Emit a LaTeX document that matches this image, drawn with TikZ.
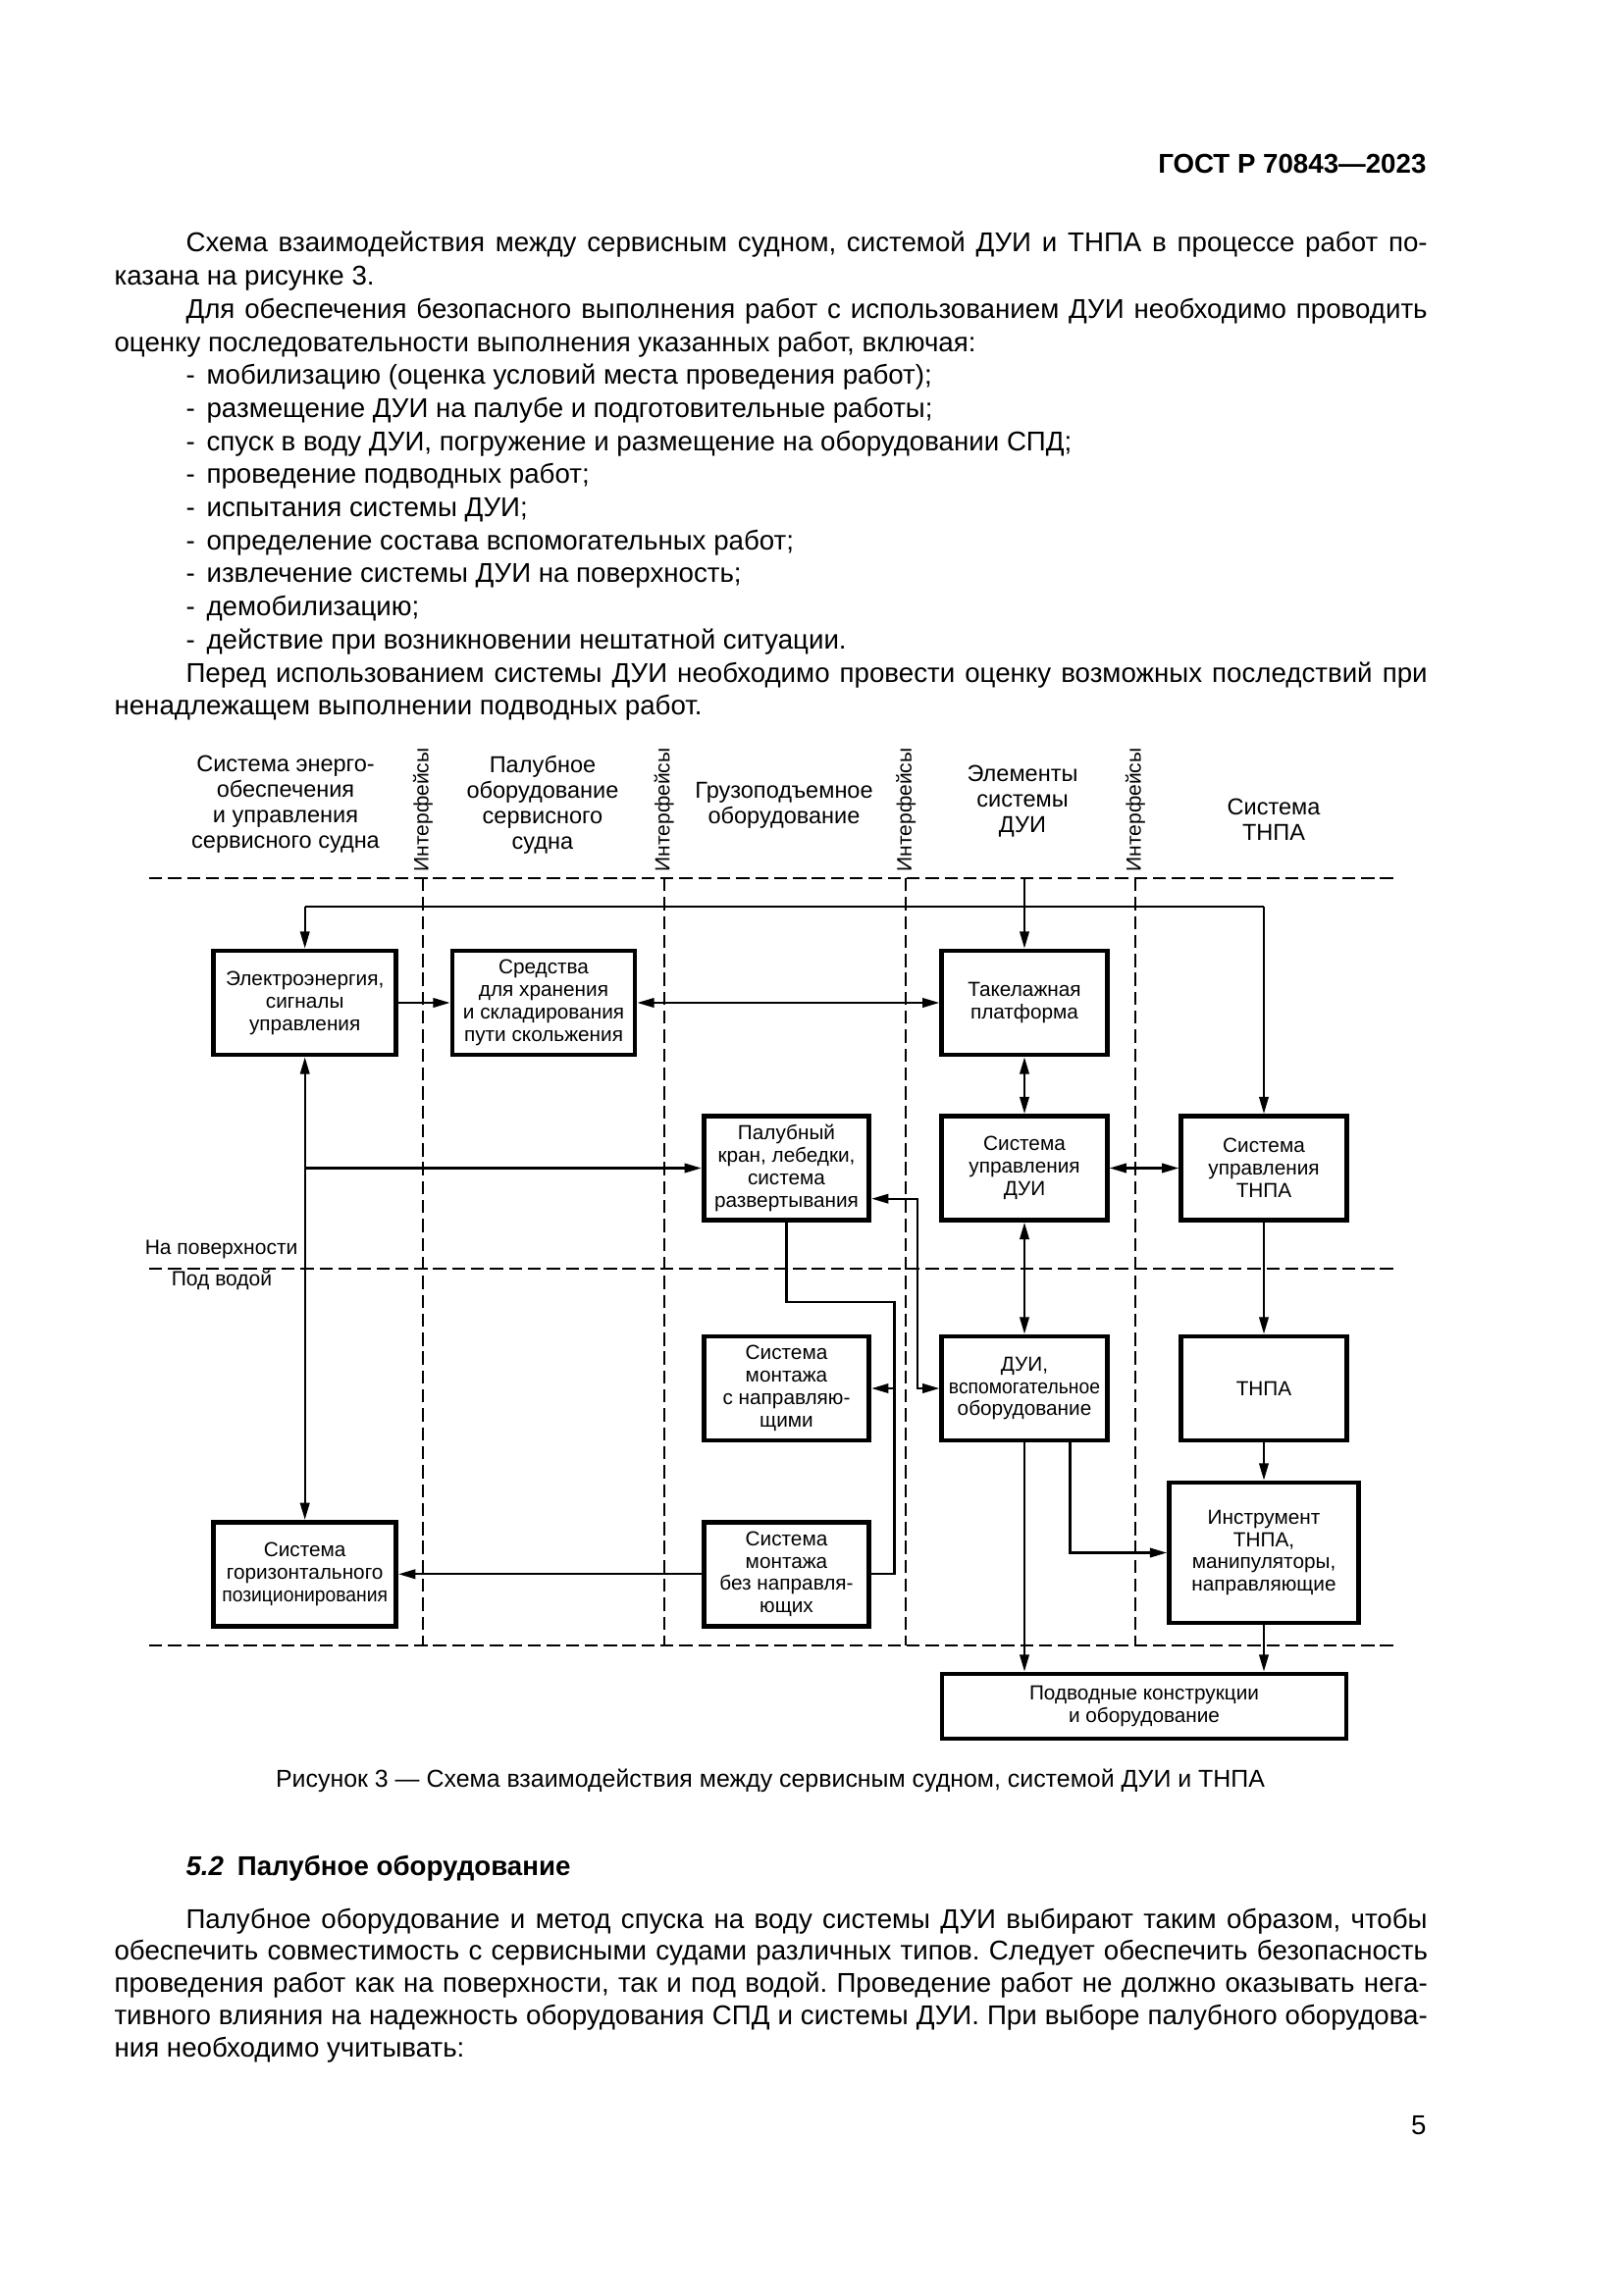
\documentclass[tikz,border=0pt]{standalone}
\usepackage{fontspec}
\setmainfont{Liberation Sans}
\newfontfamily\boxsans[FakeStretch=0.93]{Liberation Sans}
\usetikzlibrary{arrows.meta}
\frenchspacing

\begin{document}
\begin{tikzpicture}[x=0.12696mm, y=-0.12696mm,
		txt/.style={inner sep=0pt, anchor=base west, font=\fontsize{10}{11.6}\selectfont},
		hdr/.style={inner sep=0pt, align=center, font=\fontsize{8.5}{9.4}\selectfont},
		lbl/.style={inner sep=0pt, font=\fontsize{7.6}{8.4}\selectfont},
		blok/.style={draw, line width=0.6mm, align=center, inner sep=0pt,
			minimum height=13.46mm, font=\fontsize{7.5}{8.3}\selectfont},
		wide/.style={minimum width=23.6mm},
		narrow/.style={minimum width=21.4mm},
		sep/.style={line width=0.25mm, dash pattern=on 1.7mm off 0.75mm},
		con/.style={line width=0.3mm},
		arr/.style={con, -{Triangle[length=2.2mm, width=1.2mm]}},
		darr/.style={con, {Triangle[length=2.2mm, width=1.2mm]}-{Triangle[length=2.2mm, width=1.2mm]}}
		]
		
		\fill[white] (0,0) rectangle (1654,2339);
		\useasboundingbox (0,0) rectangle (1654,2339);
		
		% ---- ТЕКСТ СТРАНИЦЫ ----
		\node[txt, anchor=base east, font=\bfseries\fontsize{10}{11.6}\selectfont] (gost) at (1454,177) {ГОСТ Р 70843—2023};
		
		\node[txt] (t1) at (189,257) {\makebox[160.6mm][s]{Схема взаимодействия между сервисным судном, системой ДУИ и ТНПА в процессе работ по-}};
		\node[txt] (t2) at (116,290.7) {казана на рисунке 3.};
		\node[txt] (t3) at (189,324.4) {\makebox[160.6mm][s]{Для обеспечения безопасного выполнения работ с использованием ДУИ необходимо проводить}};
		\node[txt] (t4) at (116,358.1) {оценку последовательности выполнения указанных работ, включая:};
		\foreach \s [count=\i from 5] in {
			{мобилизацию (оценка условий места проведения работ);},
			{размещение ДУИ на палубе и подготовительные работы;},
			{спуск в воду ДУИ, погружение и размещение на оборудовании СПД;},
			{проведение подводных работ;},
			{испытания системы ДУИ;},
			{определение состава вспомогательных работ;},
			{извлечение системы ДУИ на поверхность;},
			{демобилизацию;},
			{действие при возникновении нештатной ситуации.}}
			\node[txt] (t\i) at (189,{257+33.7*(\i-1)}) {-\hspace{1.5mm}\s};
		\node[txt] (t14) at (189,695.1) {\makebox[160.6mm][s]{Перед использованием системы ДУИ необходимо провести оценку возможных последствий при}};
		\node[txt] (t15) at (116,728.8) {ненадлежащем выполнении подводных работ.};
		
		% ---- РАЗДЕЛИТЕЛИ ----
		\draw[sep] (152,895) -- (1424,895);
		\draw[sep] (152,1292.7) -- (1424,1292.7);
		\draw[sep] (152,1676.7) -- (1424,1676.7);
		\foreach \x [count=\k] in {431,676.8,923.3,1156.9} {
			\draw[sep] (\x,895) -- (\x,1676.7);
			\node[lbl, rotate=90, anchor=west] (if\k) at (\x,889) {Интерфейсы};
		}
		
		% ---- ЗАГОЛОВКИ КОЛОНОК ----
		\node[hdr] (h1) at (291,820) {Система энерго-\\обеспечения\\и управления\\сервисного судна};
		\node[hdr] (h2) at (553,820) {Палубное\\оборудование\\сервисного\\судна};
		\node[hdr] (h3) at (799,821) {Грузоподъемное\\оборудование};
		\node[hdr] (h4) at (1042,817) {Элементы\\системы\\ДУИ};
		\node[hdr] (h5) at (1298,835) {Система\\ТНПА};
		
		\node[lbl, anchor=east] (surf) at (304,1273) {На поверхности};
		\node[lbl] (under) at (226,1305) {Под водой};
		
		% ---- БЛОКИ ----
		\node[blok, wide] (elec) at (310.7,1022) {Электроэнергия,\\сигналы\\управления};
		\node[blok, wide] (store) at (554,1022) {Средства\\для хранения\\и складирования\\пути скольжения};
		\node[blok, narrow] (rig) at (1044,1022) {Такелажная\\платформа};
		
		\node[blok, narrow] (crane) at (801.5,1190.5) {Палубный\\кран, лебедки,\\система\\развертывания};
		\node[blok, narrow] (duictl) at (1044,1190.5) {Система\\управления\\ДУИ};
		\node[blok, narrow] (rovctl) at (1288,1190.5) {Система\\управления\\ТНПА};
		
		\node[blok, narrow] (guided) at (801.5,1415) {Система\\монтажа\\с направляю-\\щими};
		\node[blok, narrow] (dui) at (1044,1415) {ДУИ,\\{\boxsans вспомогательное}\\оборудование};
		\node[blok, narrow] (rov) at (1288,1415) {ТНПА};
		
		\node[blok, minimum width=24.5mm, minimum height=18.16mm] (tool) at (1288,1582.5) {Инструмент\\ТНПА,\\манипуляторы,\\направляющие};
		\node[blok, wide] (hpos) at (310.7,1604.3) {Система\\горизонтального\\{\boxsans позиционирования}};
		\node[blok, narrow] (unguided) at (801.5,1604.3) {Система\\монтажа\\без направля-\\ющих};
		
		\node[blok, minimum width=52.3mm, minimum height=8.38mm] (subsea) at (1166,1739) {Подводные конструкции\\и оборудование};
		
		% ---- СВЯЗИ ----
		\coordinate (bl) at (310.7,924);
		\coordinate (br) at (1288,924);
		\coordinate (tp) at (1044,895);
		\coordinate (j1) at (911.5,1326.7);
		\coordinate (j2) at (934.7,1221.7);
		
		\draw[con] (bl) -- (br);
		\draw[arr] (bl) -- (elec.north);
		\draw[arr] (br) -- (rovctl.north);
		\draw[arr] (tp) -- (rig.north);
		
		\draw[arr] (elec) -- (store);
		\draw[darr] (store) -- (rig);
		\draw[darr] (rig) -- (duictl);
		\draw[darr] (duictl) -- (rovctl);
		\draw[darr] (duictl) -- (dui);
		\draw[arr] (rovctl) -- (rov);
		\draw[arr] (rov) -- (tool);
		\draw[arr] (tool.south) -- (tool.south |- subsea.north);
		\draw[arr] (dui.south) -- (dui.south |- subsea.north);
		\draw[arr] ([xshift=5.9mm]dui.south) |- (tool.west);
		
		\draw[darr] (elec.south) -- (hpos.north);
		\draw[arr] (elec.south |- crane.west) -- (crane.west);
		
		\draw[con] (crane.south) |- (j1) |- (unguided.east);
		\draw[arr] (j1 |- guided.east) -- (guided.east);
		\draw[darr] (j2 -| crane.east) -- (j2) |- (dui.west);
		\draw[arr] (unguided) -- (hpos);
		
		% ---- ПОДПИСЬ И ТЕКСТ ----
		\node[txt, anchor=base, font=\fontsize{9}{10.4}\selectfont] (cap) at (785,1821.7) {Рисунок 3 — Схема взаимодействия между сервисным судном, системой ДУИ и ТНПА};
		\node[txt, font=\bfseries\fontsize{10}{11.6}\selectfont] (sec) at (189,1911) {\textit{5.2}\hspace{0.5em}Палубное оборудование};
		
		\node[txt] (b1) at (189,1965) {\makebox[160.6mm][s]{Палубное оборудование и метод спуска на воду системы ДУИ выбирают таким образом, чтобы}};
		\node[txt] (b2) at (116,1997.8) {\makebox[169.9mm][s]{обеспечить совместимость с сервисными судами различных типов. Следует обеспечить безопасность}};
		\node[txt] (b3) at (116,2030.6) {\makebox[169.9mm][s]{проведения работ как на поверхности, так и под водой. Проведение работ не должно оказывать нега-}};
		\node[txt] (b4) at (116,2063.4) {\makebox[169.9mm][s]{тивного влияния на надежность оборудования СПД и системы ДУИ. При выборе палубного оборудова-}};
		\node[txt] (b5) at (116,2096.2) {ния необходимо учитывать:};
		
		\node[txt, anchor=base east] (pg) at (1454,2175) {5};
		
	\end{tikzpicture}
\end{document}
